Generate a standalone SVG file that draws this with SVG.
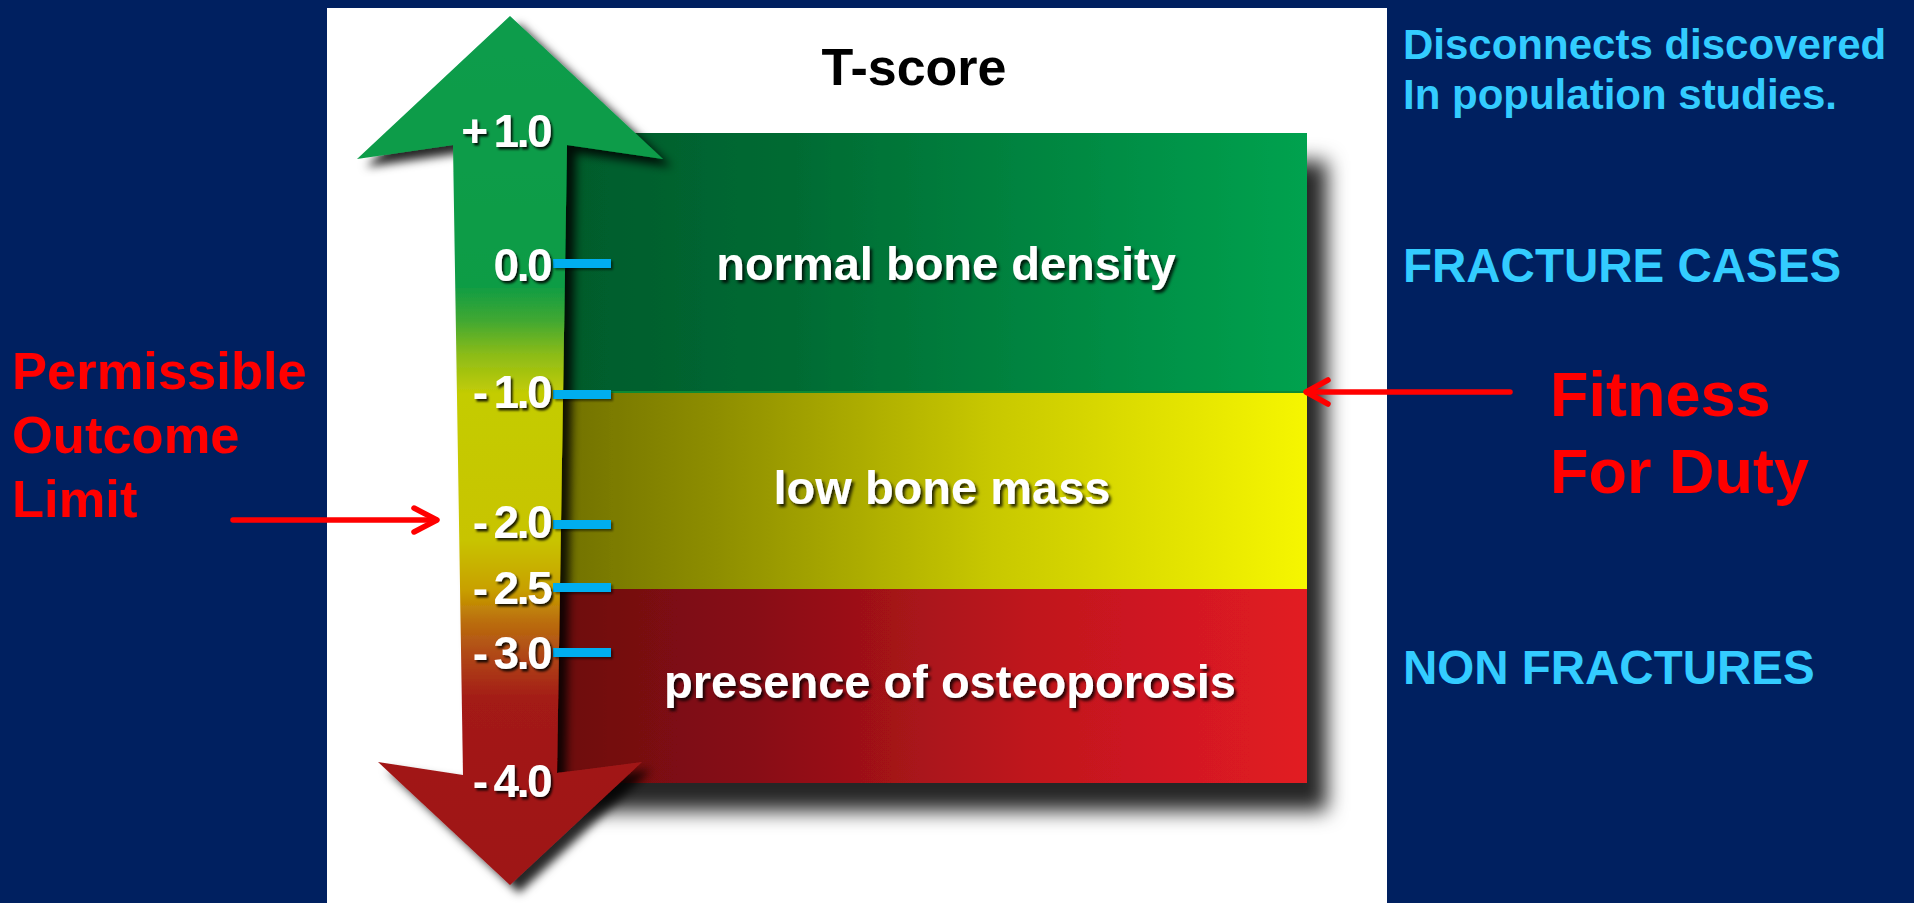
<svg xmlns="http://www.w3.org/2000/svg" width="1914" height="903" viewBox="0 0 1914 903">
<defs>
<style>
.bold{font-family:"Liberation Sans",Arial,sans-serif;font-weight:bold}
.tl{font-size:46px;fill:#fff;letter-spacing:-2.5px;text-anchor:end;filter:url(#ts)}
.rl{font-size:47px;fill:#fff;text-anchor:middle;filter:url(#ts2)}
.cy{fill:#33ccff}
.rd{fill:#ff0000}
.tick{fill:#00aeef;filter:url(#tks)}
.arr{stroke:#ff0000;stroke-width:5.5;fill:none;stroke-linecap:round;stroke-linejoin:round}
</style>
<filter id="ts" x="-20%" y="-30%" width="140%" height="160%">
<feDropShadow dx="2" dy="2.5" stdDeviation="1.2" flood-color="#000" flood-opacity="0.85"/>
</filter>
<filter id="ts2" x="-10%" y="-30%" width="120%" height="160%">
<feDropShadow dx="2.5" dy="3" stdDeviation="1.5" flood-color="#000" flood-opacity="0.8"/>
</filter>
<filter id="tks" x="-20%" y="-100%" width="140%" height="300%">
<feDropShadow dx="2" dy="2" stdDeviation="1" flood-color="#000" flood-opacity="0.5"/>
</filter>
<filter id="rs" x="-10%" y="-10%" width="125%" height="125%">
<feDropShadow dx="20" dy="28" stdDeviation="10" flood-color="#000" flood-opacity="0.85"/>
</filter>
<filter id="as" x="-20%" y="-10%" width="150%" height="120%">
<feDropShadow dx="9" dy="8" stdDeviation="5" flood-color="#000" flood-opacity="0.85"/>
</filter>
<linearGradient id="gG" x1="0" y1="0" x2="1" y2="0">
<stop offset="0" stop-color="#04582a"/>
<stop offset="0.35" stop-color="#046b33"/>
<stop offset="1" stop-color="#02a24f"/>
</linearGradient>
<linearGradient id="gY" x1="0" y1="0" x2="1" y2="0">
<stop offset="0" stop-color="#6a6a00"/>
<stop offset="0.25" stop-color="#8e8e00"/>
<stop offset="0.6" stop-color="#c8c800"/>
<stop offset="1" stop-color="#f6f600"/>
</linearGradient>
<linearGradient id="gR" x1="0" y1="0" x2="1" y2="0">
<stop offset="0" stop-color="#680a0e"/>
<stop offset="0.3" stop-color="#880e14"/>
<stop offset="0.65" stop-color="#c0161e"/>
<stop offset="1" stop-color="#e21b24"/>
</linearGradient>
<linearGradient id="gA" gradientUnits="userSpaceOnUse" x1="0" y1="16" x2="0" y2="885">
<stop offset="0" stop-color="#079c4c"/>
<stop offset="0.310" stop-color="#0e9c45"/>
<stop offset="0.350" stop-color="#40a832"/>
<stop offset="0.390" stop-color="#8cbc18"/>
<stop offset="0.435" stop-color="#c4cc04"/>
<stop offset="0.603" stop-color="#c8c400"/>
<stop offset="0.660" stop-color="#c8a000"/>
<stop offset="0.695" stop-color="#bb700c"/>
<stop offset="0.735" stop-color="#b04818"/>
<stop offset="0.787" stop-color="#a31a18"/>
<stop offset="1" stop-color="#9e1418"/>
</linearGradient>
</defs>

<rect x="0" y="0" width="1914" height="903" fill="#002060"/>
<rect x="327" y="8" width="1060" height="895" fill="#ffffff"/>

<g id="title">
<text class="bold" x="914" y="85" font-size="52" fill="#000" text-anchor="middle">T-score</text>
</g>

<g id="bands" filter="url(#rs)">
<rect id="band-normal" x="520" y="133" width="787" height="260" fill="url(#gG)"/>
<rect id="band-low" x="520" y="392" width="787" height="198" fill="url(#gY)"/>
<rect id="band-osteo" x="520" y="589" width="787" height="194" fill="url(#gR)"/>
<line x1="520" y1="392" x2="1307" y2="392" stroke="#0a8a30" stroke-width="2"/>
</g>

<g id="scale-arrow">
<path d="M510,16 L663,159 L567,145 L557,773 L642,762 L510,885 L378,762 L463,775 L453,145 L357,159 Z" fill="url(#gA)" filter="url(#as)"/>
</g>

<g id="ticks">
<rect class="tick" x="553" y="259" width="58" height="9"/>
<rect class="tick" x="553" y="390" width="58" height="9"/>
<rect class="tick" x="553" y="520" width="58" height="9"/>
<rect class="tick" x="553" y="583" width="58" height="9"/>
<rect class="tick" x="553" y="648" width="58" height="9"/>
</g>

<g id="tick-labels">
<text class="bold tl" x="550" y="147">+<tspan dx="8">1.0</tspan></text>
<text class="bold tl" x="550" y="281">0.0</text>
<text class="bold tl" x="550" y="408">-<tspan dx="8">1.0</tspan></text>
<text class="bold tl" x="550" y="538">-<tspan dx="8">2.0</tspan></text>
<text class="bold tl" x="550" y="604">-<tspan dx="8">2.5</tspan></text>
<text class="bold tl" x="550" y="669">-<tspan dx="8">3.0</tspan></text>
<text class="bold tl" x="550" y="797">-<tspan dx="8">4.0</tspan></text>
</g>

<g id="region-labels">
<text class="bold rl" x="946" y="280">normal bone density</text>
<text class="bold rl" x="942" y="504">low bone mass</text>
<text class="bold rl" x="950" y="698">presence of osteoporosis</text>
</g>

<g id="note-disconnects">
<text class="bold cy" x="1403" y="59" font-size="42">Disconnects discovered</text>
<text class="bold cy" x="1403" y="109" font-size="42">In population studies.</text>
</g>
<g id="note-fracture">
<text class="bold cy" x="1403" y="282" font-size="47.5">FRACTURE CASES</text>
</g>
<g id="note-nonfracture">
<text class="bold cy" x="1403" y="684" font-size="47.5">NON FRACTURES</text>
</g>
<g id="note-fitness">
<text class="bold rd" x="1550" y="416" font-size="63">Fitness</text>
<text class="bold rd" x="1550" y="493" font-size="63">For Duty</text>
</g>
<g id="note-permissible">
<text class="bold rd" x="12" y="389" font-size="52.5">Permissible</text>
<text class="bold rd" x="12" y="453" font-size="52.5">Outcome</text>
<text class="bold rd" x="12" y="517" font-size="52.5">Limit</text>
</g>

<g id="connectors">
<line class="arr" x1="233" y1="520" x2="436" y2="520"/>
<polyline class="arr" points="414,508 437,520 414,532"/>
<line class="arr" x1="1510" y1="392" x2="1307" y2="392"/>
<polyline class="arr" points="1328,380 1306,392 1328,404"/>
</g>
</svg>
